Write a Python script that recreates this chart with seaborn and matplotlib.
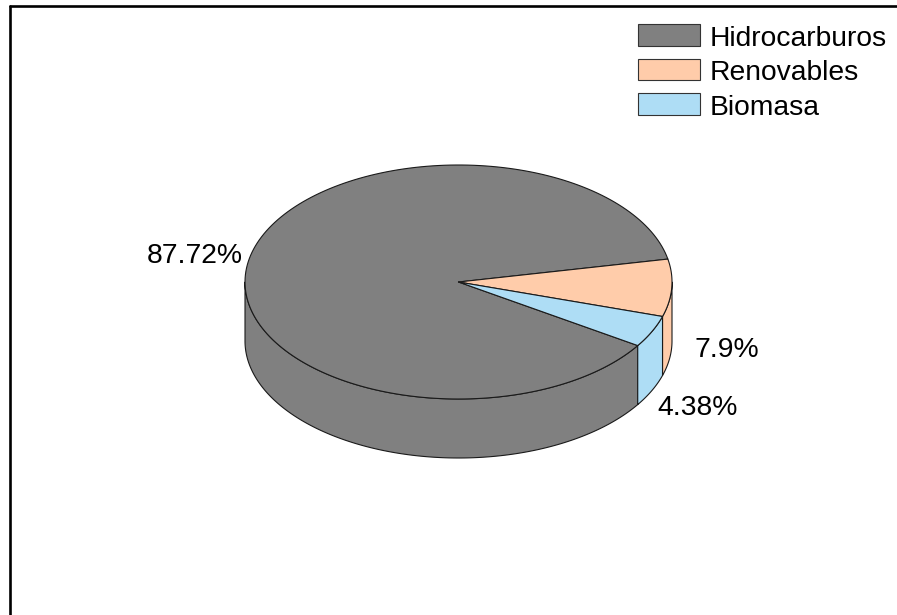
import numpy as np
import matplotlib
matplotlib.use("Agg")
import matplotlib.pyplot as plt
from matplotlib.patches import Polygon, Rectangle
from matplotlib.lines import Line2D
import seaborn as sns

# Energy mix shares (%)
categories = ["Hidrocarburos", "Renovables", "Biomasa"]
shares = [87.72, 7.9, 4.38]
colors = ["#808080", "#FFCCAA", "#AEDDF5"]

sns.set_style("white")
plt.rcParams["font.family"] = ["Liberation Sans", "DejaVu Sans"]

W, H = 897, 615
fig = plt.figure(figsize=(W / 100, H / 100), dpi=100)
ax = fig.add_axes([0, 0, 1, 1])
ax.set_xlim(0, W)
ax.set_ylim(H, 0)
ax.axis("off")

# Pie geometry (pixel space, y downward)
cx, cy = 458.5, 282.0
rx, ry = 213.5, 117.0
depth = 59.0
start_angle = 327.09
edge = "#1a1a1a"
lw = 0.8
fs = 20.3


def ell(theta_deg, drop=0.0):
    t = np.radians(theta_deg)
    return cx + rx * np.cos(t), cy - ry * np.sin(t) + drop


def arc(a, b, drop=0.0, n=200):
    th = np.linspace(a, b, n)
    x, y = ell(th, drop)
    return np.column_stack([x, y])


fracs = np.array(shares) / np.sum(shares)
spans = fracs * 360.0
ends = start_angle - np.cumsum(spans)
starts = ends + spans

# Outer wall: only the front half (angles between -180 and 0) is visible
for s, e, c in zip(starts, ends, colors):
    for k in (-1, 0, 1):
        lo, hi = e + 360 * k, s + 360 * k
        lo_c, hi_c = max(lo, -180.0), min(hi, 0.0)
        if hi_c - lo_c > 1e-6:
            top = arc(hi_c, lo_c)
            bot = arc(lo_c, hi_c, drop=depth)
            ax.add_patch(Polygon(np.vstack([top, bot]), closed=True,
                                 facecolor=c, edgecolor=edge, lw=lw,
                                 joinstyle="round"))

# Top face wedges
for s, e, c in zip(starts, ends, colors):
    pts = np.vstack([[cx, cy], arc(s, e)])
    ax.add_patch(Polygon(pts, closed=True, facecolor=c, edgecolor=edge,
                         lw=lw, joinstyle="round"))

# Percentage labels
label_offsets = [(-6, -4, "right"), (23, 3, "left"), (5, 18, "left")]
for s, e, v, (dx, dy, ha) in zip(starts, ends, shares, label_offsets):
    mid = (s + e) / 2.0
    x, y = ell(mid)
    if np.sin(np.radians(mid)) < 0:
        y += depth
    ax.text(x + dx, y + dy, f"{v:g}%", fontsize=fs, ha=ha, va="center",
            color="black")

# Legend
for i, (name, c) in enumerate(zip(categories, colors)):
    y0 = 24 + i * 34.5
    ax.add_patch(Rectangle((638, y0), 62, 21.5, facecolor=c,
                           edgecolor="#333333", lw=0.8))
    ax.text(709.5, y0 + 22, name, fontsize=fs, ha="left", va="baseline",
            color="black")

# Frame
fig.add_artist(Line2D([10 / W, 10 / W], [0, 1 - 6 / H], color="black",
                      lw=1.9, transform=fig.transFigure))
fig.add_artist(Line2D([10 / W, 1], [1 - 6 / H, 1 - 6 / H], color="black",
                      lw=1.9, transform=fig.transFigure))

fig.savefig("out.png", dpi=100, facecolor="white")
